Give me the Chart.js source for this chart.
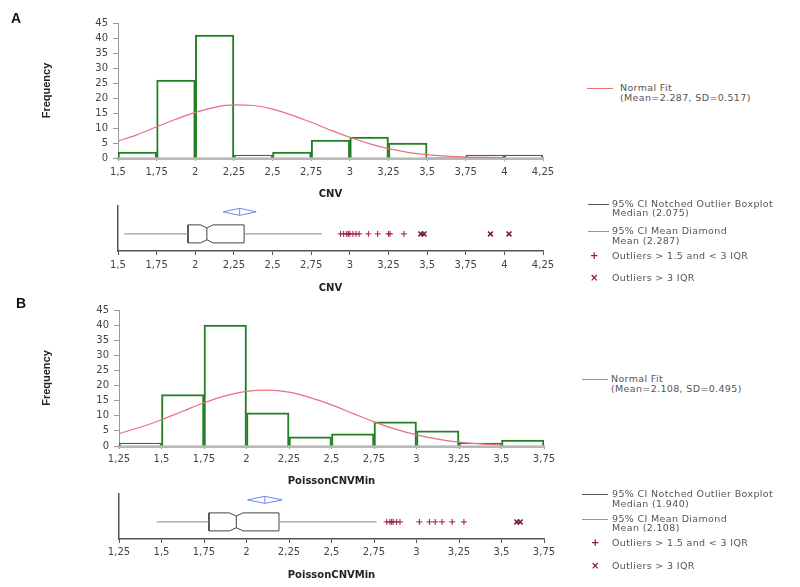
<!DOCTYPE html>
<html><head><meta charset="utf-8">
<script src="https://cdn.jsdelivr.net/npm/chart.js@4.4.1/dist/chart.umd.min.js"></script>
<style>
body{margin:0;background:#fff;}
#wrap{position:relative;width:800px;height:587px;overflow:hidden;background:#fff;font-family:'DejaVu Sans',sans-serif;}
canvas{position:absolute;left:0;}
.pl{position:absolute;font:bold 14px 'Liberation Sans',Arial,sans-serif;line-height:14px;color:#111;}
.lg{position:absolute;font-size:9.5px;letter-spacing:0.35px;line-height:10px;color:#555;white-space:nowrap;}
.sw{position:absolute;height:0;border-top:1px solid #555;}
.mk{position:absolute;font-size:10px;line-height:10px;color:#8b1538;width:8px;text-align:center;font-weight:bold;}
</style></head>
<body><div id="wrap">
<canvas id="hA" width="560" height="205" style="top:0px"></canvas>
<canvas id="bA" width="560" height="100" style="top:200px"></canvas>
<canvas id="hB" width="560" height="195" style="top:295px"></canvas>
<canvas id="bB" width="560" height="99" style="top:488px"></canvas>

<div class="pl" style="left:11px;top:11px">A</div>
<div class="pl" style="left:16px;top:296px">B</div>

<div class="sw" style="left:587px;top:88px;width:26px;border-color:#e8707f"></div>
<div class="lg" style="left:620px;top:83px">Normal Fit</div>
<div class="lg" style="left:620px;top:93px">(Mean=2.287, SD=0.517)</div>
<div class="sw" style="left:588px;top:204px;width:21px;border-color:#555"></div>
<div class="lg" style="left:612px;top:199px">95% CI Notched Outlier Boxplot</div>
<div class="lg" style="left:612px;top:208px">Median (2.075)</div>
<div class="sw" style="left:588px;top:231px;width:21px;border-color:#8090f0"></div>
<div class="lg" style="left:612px;top:226px">95% CI Mean Diamond</div>
<div class="lg" style="left:612px;top:236px">Mean (2.287)</div>
<div class="mk" style="left:590px;top:251px">+</div>
<div class="lg" style="left:612px;top:251px">Outliers &gt; 1.5 and &lt; 3 IQR</div>
<div class="mk" style="left:590px;top:273px">×</div>
<div class="lg" style="left:612px;top:273px">Outliers &gt; 3 IQR</div>

<div class="sw" style="left:582px;top:379px;width:26px;border-color:#e8707f"></div>
<div class="lg" style="left:611px;top:374px">Normal Fit</div>
<div class="lg" style="left:611px;top:384px">(Mean=2.108, SD=0.495)</div>
<div class="sw" style="left:582px;top:494px;width:26px;border-color:#555"></div>
<div class="lg" style="left:612px;top:489px">95% CI Notched Outlier Boxplot</div>
<div class="lg" style="left:612px;top:499px">Median (1.940)</div>
<div class="sw" style="left:582px;top:519px;width:26px;border-color:#8090f0"></div>
<div class="lg" style="left:612px;top:514px">95% CI Mean Diamond</div>
<div class="lg" style="left:612px;top:523px">Mean (2.108)</div>
<div class="mk" style="left:591px;top:538px">+</div>
<div class="lg" style="left:612px;top:538px">Outliers &gt; 1.5 and &lt; 3 IQR</div>
<div class="mk" style="left:591px;top:561px">×</div>
<div class="lg" style="left:612px;top:561px">Outliers &gt; 3 IQR</div>
</div>
<script>
// ---------- Data: panel A (CNV) ----------
const cnvBinEdges = [1.5,1.75,2,2.25,2.5,2.75,3,3.25,3.5,3.75,4,4.25];
const cnvCounts   = [2,26,41,1,2,6,7,5,0,1,1];
const cnvTicks    = [1.5,1.75,2,2.25,2.5,2.75,3,3.25,3.5,3.75,4,4.25];
const cnvTickLabels = ['1,5','1,75','2','2,25','2,5','2,75','3','3,25','3,5','3,75','4','4,25'];
const cnvFitX = [1.5,1.625,1.75,1.875,2,2.125,2.25,2.375,2.5,2.625,2.75,2.875,3,3.125,3.25,3.375,3.5,3.625,3.75,3.875,4];
const cnvFitY = [5.6,7.8,10.4,12.9,15.2,16.9,17.7,17.5,16.3,14.3,11.9,9.3,6.9,4.8,3.1,1.9,1.1,0.6,0.3,0.2,0.1];
const cnvBoxStats = {wLo:1.54,q1:1.953,nLo:2.035,med:2.075,nHi:2.115,q3:2.316,wHi:2.82};
const cnvMeanCI = {lo:2.18,mean:2.287,hi:2.394};
const cnvOutliersMild = [2.94,2.96,2.98,2.99,3.0,3.02,3.04,3.06,3.12,3.18,3.25,3.26,3.35];
const cnvOutliersExtreme = [3.46,3.48,3.91,4.03];

// ---------- Data: panel B (PoissonCNVMin) ----------
const pcmBinEdges = [1.25,1.5,1.75,2,2.25,2.5,2.75,3,3.25,3.5,3.75];
const pcmCounts   = [1,17,40,11,3,4,8,5,1,2];
const pcmTicks    = [1.25,1.5,1.75,2,2.25,2.5,2.75,3,3.25,3.5,3.75];
const pcmTickLabels = ['1,25','1,5','1,75','2','2,25','2,5','2,75','3','3,25','3,5','3,75'];
const pcmFitX = [1.25,1.375,1.5,1.625,1.75,1.875,2,2.125,2.25,2.375,2.5,2.625,2.75,2.875,3,3.125,3.25,3.375,3.5];
const pcmFitY = [4.1,6.2,8.7,11.5,14.3,16.6,18.1,18.5,17.8,16.0,13.6,10.8,8.0,5.6,3.7,2.3,1.3,0.7,0.4];
const pcmBoxStats = {wLo:1.472,q1:1.779,nLo:1.90,med:1.94,nHi:1.98,q3:2.191,wHi:2.766};
const pcmMeanCI = {lo:2.006,mean:2.108,hi:2.21};
const pcmOutliersMild = [2.825,2.844,2.854,2.863,2.883,2.903,3.017,3.076,3.11,3.15,3.21,3.279];
const pcmOutliersExtreme = [3.59,3.61];

const freqTicks = [0,5,10,15,20,25,30,35,40,45];

// ---------- Styling / layout ----------
const BOX_GEOM = {center:0.38, half:0.2, notch:0.07, diamondY:0.87, diamondHalf:0.078};
Chart.defaults.font.family = "'DejaVu Sans', sans-serif";
Chart.defaults.font.size = 10;
Chart.defaults.color = '#444';
Chart.defaults.animation = false;
Chart.defaults.responsive = false;
Chart.defaults.devicePixelRatio = 1;
Chart.defaults.plugins.legend.display = false;
Chart.defaults.plugins.tooltip.enabled = false;

function xAxis(g, edges, ticks, labels, title, hist) {
  return {
    type:'linear', min:edges[0], max:edges[edges.length-1], offset:false,
    afterFit:s=>{s.height=g.xh;},
    afterBuildTicks:s=>{s.ticks=ticks.map(v=>({value:v}));},
    ticks:{callback:(v,i)=>labels[i], padding:g.xtp, maxRotation:0, autoSkip:false, color:'#444'},
    grid:{display:true, drawOnChartArea:false, drawTicks:true, tickLength:g.xtl, color:hist?'#999':'#555', offset:false},
    border:hist?{display:true,color:'#b8b8b8',width:3}:{display:true,color:'#555',width:1.5},
    title:{display:true,text:title,font:{weight:'bold',size:10},color:'#222',padding:{top:0,bottom:g.xtitle}}
  };
}

function histChart(id, g, edges, counts, fitX, fitY, ticks, labels, title) {
  const bars = counts.map((c,i)=>({x:(edges[i]+edges[i+1])/2, y:c}));
  const fit = fitX.map((x,i)=>({x:x, y:fitY[i]}));
  new Chart(document.getElementById(id), {
    type:'bar',
    data:{datasets:[
      {type:'line', data:fit, borderColor:'#e8707f', borderWidth:1.2, pointRadius:0, tension:0.4, cubicInterpolationMode:'monotone', order:0},
      {type:'bar', data:bars, backgroundColor:'#ffffff', borderColor:'#237f23', borderWidth:2, categoryPercentage:1, barPercentage:1, order:1}
    ]},
    options:{
      layout:{padding:{top:g.top,right:g.right,left:0,bottom:0}},
      scales:{
        x:xAxis(g, edges, ticks, labels, title, true),
        y:{min:0,max:45, afterFit:s=>{s.width=g.yw;},
           afterBuildTicks:s=>{s.ticks=freqTicks.map(v=>({value:v}));},
           ticks:{padding:5,color:'#444'},
           grid:{drawOnChartArea:false,tickLength:5,color:'#999'},
           border:{color:'#999',width:1},
           title:{display:true,text:'Frequency',font:{family:"'Liberation Sans Narrow','Liberation Sans',sans-serif",weight:'bold',size:11},color:'#222',padding:{top:40,bottom:0}}
        }
      }
    }
  });
}

function boxChart(id, g, s, ci, mild, extreme, edges, ticks, labels, title) {
  const G = BOX_GEOM;
  const yc=G.center, top=yc+G.half, bot=yc-G.half, nt=top-G.notch, nb=bot+G.notch;
  const dy=G.diamondY, dh=G.diamondHalf;
  const line = (pts,color,w)=>({data:pts, showLine:true, borderColor:color, borderWidth:w, pointRadius:0, tension:0, fill:false});
  const datasets = [
    line([{x:s.wLo,y:yc},{x:s.q1,y:yc}], '#8a8a8a', 1),
    line([{x:s.q3,y:yc},{x:s.wHi,y:yc}], '#8a8a8a', 1),
    line([{x:s.q1,y:bot},{x:s.nLo,y:bot},{x:s.med,y:nb},{x:s.nHi,y:bot},{x:s.q3,y:bot},{x:s.q3,y:top},{x:s.nHi,y:top},{x:s.med,y:nt},{x:s.nLo,y:top},{x:s.q1,y:top},{x:s.q1,y:bot}], '#444', 1),
    line([{x:s.med,y:nb},{x:s.med,y:nt}], '#444', 1),
    line([{x:ci.lo,y:dy},{x:ci.mean,y:dy+dh},{x:ci.hi,y:dy},{x:ci.mean,y:dy-dh},{x:ci.lo,y:dy}], '#6f86ee', 1),
    line([{x:ci.mean,y:dy-dh},{x:ci.mean,y:dy+dh}], '#6f86ee', 1),
    {data:mild.map(v=>({x:v,y:yc})), showLine:false, pointStyle:'cross', pointRadius:3, borderColor:'#9b1d3c', borderWidth:1},
    {data:extreme.map(v=>({x:v,y:yc})), showLine:false, pointStyle:'crossRot', pointRadius:3.5, borderColor:'#7a1530', borderWidth:1.5}
  ];
  new Chart(document.getElementById(id), {
    type:'scatter',
    data:{datasets:datasets},
    options:{
      layout:{padding:{top:g.top,right:g.right,left:0,bottom:0}},
      scales:{
        x:xAxis(g, edges, ticks, labels, title, false),
        y:{min:0,max:1, afterFit:sc=>{sc.width=g.yw;},
           ticks:{display:false}, grid:{display:false},
           border:{display:true,color:'#555',width:1.5}}
      }
    }
  });
}

histChart('hA', {top:23,right:17,yw:118,xh:47,xtl:3,xtp:5,xtitle:5}, cnvBinEdges, cnvCounts, cnvFitX, cnvFitY, cnvTicks, cnvTickLabels, 'CNV');
boxChart('bA', {top:6,right:17,yw:118,xh:49,xtl:4,xtp:4,xtitle:6}, cnvBoxStats, cnvMeanCI, cnvOutliersMild, cnvOutliersExtreme, cnvBinEdges, cnvTicks, cnvTickLabels, 'CNV');
histChart('hB', {top:15,right:16,yw:119,xh:44,xtl:3,xtp:4,xtitle:3}, pcmBinEdges, pcmCounts, pcmFitX, pcmFitY, pcmTicks, pcmTickLabels, 'PoissonCNVMin');
boxChart('bB', {top:6,right:16,yw:119,xh:48,xtl:4,xtp:3,xtitle:6}, pcmBoxStats, pcmMeanCI, pcmOutliersMild, pcmOutliersExtreme, pcmBinEdges, pcmTicks, pcmTickLabels, 'PoissonCNVMin');
</script>
</body></html>
